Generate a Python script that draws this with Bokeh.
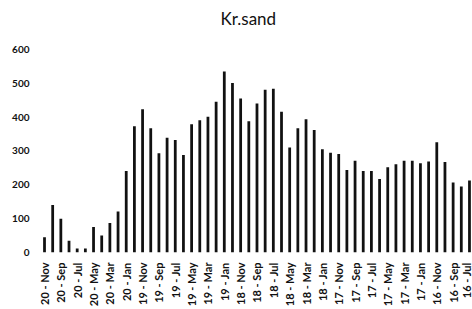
import math
from bokeh.plotting import figure
from bokeh.models import Range1d, FixedTicker, ColumnDataSource
from bokeh.embed import file_html
from bokeh.resources import INLINE

months = ["Nov", "Oct", "Sep", "Aug", "Jul", "Jun", "May", "Apr", "Mar", "Feb", "Jan", "Dec"]
years = ["20", "19", "18", "17", "16"]
categories = []
for y in years:
    for m in months:
        categories.append(f"{y} - {m}")
categories = categories[:53]  # 20 - Nov ... 16 - Jul

values = [45, 140, 100, 35, 12, 12, 75, 50, 87, 121, 241, 373, 423, 367, 293,
          339, 332, 288, 379, 391, 401, 445, 535, 501, 455, 388, 440, 481, 484,
          416, 310, 367, 394, 362, 305, 295, 291, 244, 271, 241, 241, 217, 252,
          261, 271, 271, 264, 269, 326, 267, 207, 195, 213]

y_ticks = [0, 100, 200, 300, 400, 500, 600]

idx = list(range(len(categories)))
src = ColumnDataSource(dict(x=idx, top=values, cat=categories))
lab_idx = idx[::2]

p = figure(width=472, height=309, output_backend="svg", toolbar_location=None,
           x_range=Range1d(-1.224, 52.37), y_range=Range1d(0, 647),
           min_border_left=34, min_border_right=0, min_border_top=33,
           min_border_bottom=56, title="Kr.sand")
p.title.align = "left"
p.title.offset = 186
p.title.standoff = 10
p.title.text_font = "Lato"
p.title.text_font_style = "normal"
p.title.text_font_size = "17px"
p.title.text_color = "#111111"

p.vbar(x="x", top="top", width=0.34, bottom=0, source=src,
       fill_color="#111111", line_color=None)

p.grid.visible = False
p.outline_line_color = None

for ax in (p.xaxis, p.yaxis):
    ax.axis_line_color = None
    ax.major_tick_line_color = None
    ax.minor_tick_line_color = None
    ax.major_tick_out = 0
    ax.major_tick_in = 0
    ax.minor_tick_out = 0
    ax.minor_tick_in = 0
    ax.major_label_text_font = "Lato"
    ax.major_label_text_font_style = "bold"
    ax.major_label_text_color = "#111111"

p.yaxis.ticker = FixedTicker(ticks=y_ticks)
p.yaxis.major_label_standoff = 5
p.yaxis.major_label_text_font_size = "10px"

p.xaxis.ticker = FixedTicker(ticks=lab_idx)
p.xaxis.major_label_overrides = {i: categories[i] for i in lab_idx}
p.xaxis.major_label_orientation = math.pi / 2
p.xaxis.major_label_standoff = 10
p.xaxis.major_label_text_font_size = "11px"

open("out.html", "w").write(file_html(p, INLINE))
